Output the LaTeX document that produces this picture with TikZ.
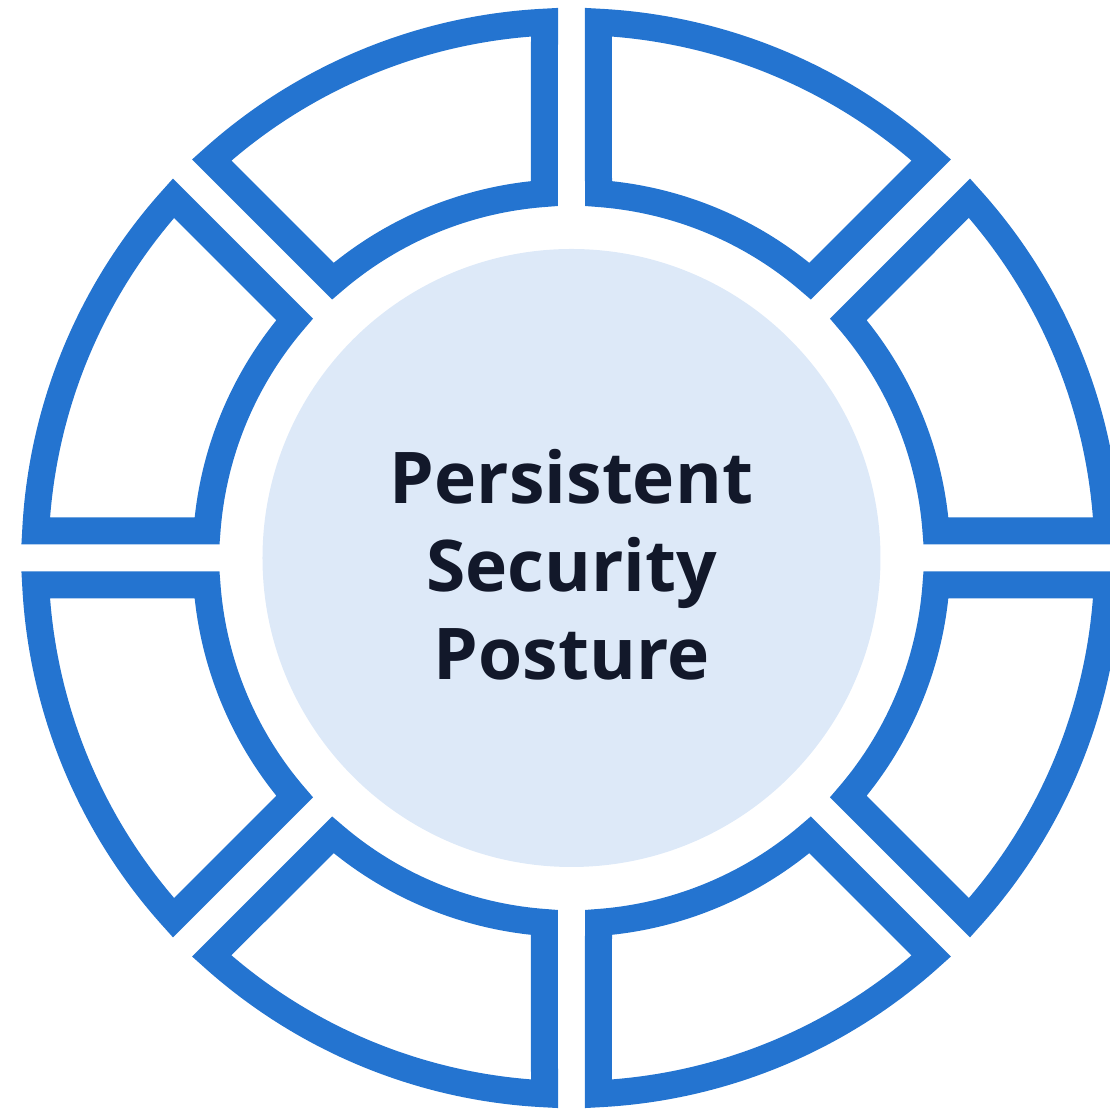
\documentclass[tikz,border=0pt]{standalone}
\usepackage{fontspec}
\setmainfont{Open Sans}
\definecolor{ringblue}{RGB}{36,116,208}
\definecolor{hubfill}{RGB}{221,233,248}
\definecolor{inkdark}{RGB}{18,24,42}

\begin{document}
\begin{tikzpicture}[
   x=1cm,y=1cm,
   segment/.style={draw=ringblue,line width=0.27cm,line join=miter},
   hub/.style={circle,fill=hubfill,minimum size=6.18cm,inner sep=0pt},
   every node/.style={font=\fontsize{20.3}{25}\selectfont\bfseries,text=inkdark}
 ]
  \useasboundingbox (-5.715,5.58) rectangle (5.385,-5.51);
  \clip (-5.715,5.58) rectangle (5.385,-5.51);
  \node[hub] (hub) at (0,0) {};
  \node[align=center] (title) at (0,-0.07) {Persistent\\Security\\Posture};

  \pgfmathsetmacro{\dout}{asin(0.27/5.365)}
  \pgfmathsetmacro{\din}{asin(0.27/3.655)}
  \foreach \a in {0,45,...,315} {
    \draw[segment] ({\a+\dout}:5.365) arc[start angle={\a+\dout}, end angle={\a+45-\dout}, radius=5.365]
      -- ({\a+45-\din}:3.655) arc[start angle={\a+45-\din}, end angle={\a+\din}, radius=3.655] -- cycle;
  }
 \end{tikzpicture}
\end{document}
